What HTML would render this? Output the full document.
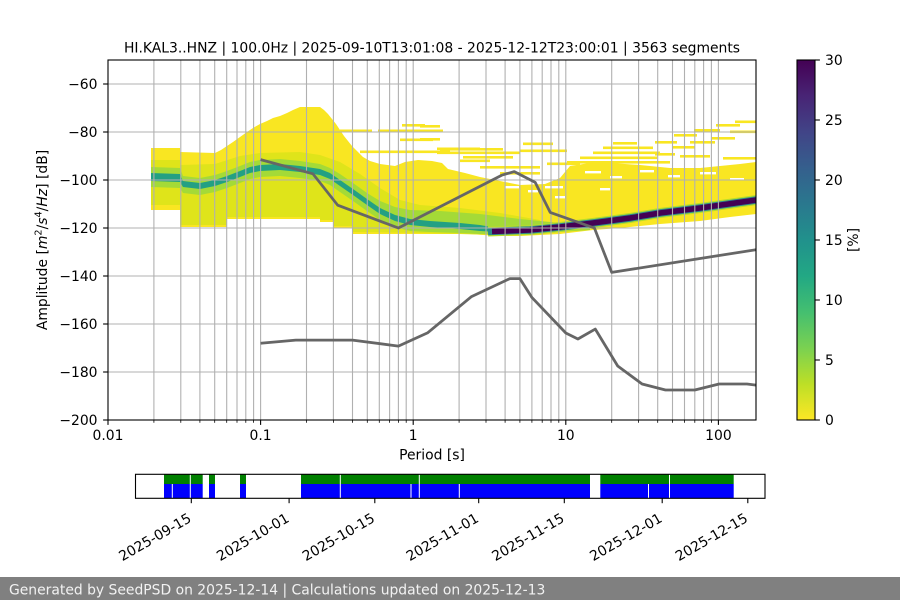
<!DOCTYPE html>
<html><head><meta charset="utf-8"><style>
html,body{margin:0;padding:0;background:#fff;}
svg{display:block;}
text{font-family:"DejaVu Sans","Liberation Sans",sans-serif;font-size:13.9px;fill:#000;}
</style></head><body>
<svg width="900" height="600" viewBox="0 0 900 600" xmlns="http://www.w3.org/2000/svg">
<defs>
<linearGradient id="vir" x1="0" y1="0" x2="0" y2="1">
<stop offset="0" stop-color="#440154"/><stop offset="0.1" stop-color="#482475"/><stop offset="0.2" stop-color="#414487"/><stop offset="0.3" stop-color="#355f8d"/><stop offset="0.4" stop-color="#2a788e"/><stop offset="0.5" stop-color="#21918c"/><stop offset="0.6" stop-color="#22a884"/><stop offset="0.7" stop-color="#44bf70"/><stop offset="0.8" stop-color="#7ad151"/><stop offset="0.9" stop-color="#bddf26"/><stop offset="1" stop-color="#fde725"/>
</linearGradient>
<clipPath id="ax"><rect x="108" y="60" width="648" height="360"/></clipPath>
</defs>
<rect width="900" height="600" fill="#fff"/>

<text x="432" y="52.5" text-anchor="middle">HI.KAL3..HNZ | 100.0Hz | 2025-09-10T13:01:08 - 2025-12-12T23:00:01 | 3563 segments</text>

<g clip-path="url(#ax)">
<polygon fill="#f9e622" points="151,148 180,148 180,152 215,153 221,150 227,146 233,142 240,137 247,132 253,128 260,124 267,121 273,118 280,116 287,113 293,110 300,107 320,107 324,110 328,114 332,119 336,124 340,130 344,136 348,141 352,146 357,151 363,157 370,161 380,164 395,166 405,162 418,160 432,161 442,163 448,169 465,173 480,177 500,181 520,185 545,184 560,178 570,166 590,163 610,163 640,165 670,168 700,168 720,166 740,164 756,162 756,214 730,217 700,221 660,224 620,228 593,230 560,234 520,236 497,236 470,234 420,234 353,234 353,228 333,228 333,222 320,222 320,219 227,219 227,227 180,227 180,210 151,210"/>
<g fill="#ffffff">
<rect x="505" y="186" width="14" height="2.4"/><rect x="528" y="190" width="10" height="2.4"/><rect x="545" y="186" width="18" height="2.4"/>
<rect x="585" y="171" width="16" height="2.4"/><rect x="610" y="176" width="12" height="2.4"/><rect x="640" y="170" width="14" height="2.4"/>
<rect x="668" y="175" width="12" height="2.4"/><rect x="700" y="172" width="16" height="2.4"/><rect x="730" y="178" width="14" height="2.4"/>
<rect x="555" y="196" width="10" height="2.4"/><rect x="600" y="188" width="10" height="2.4"/>
</g>
<g fill="#f9e622">
<rect x="340" y="129.5" width="32" height="2.6"/><rect x="378" y="129.5" width="65" height="2.6"/>
<rect x="402" y="124" width="23" height="2.6"/><rect x="420" y="125" width="20" height="2.6"/>
<rect x="400" y="138.5" width="33" height="2.6"/><rect x="420" y="138" width="20" height="2.6"/>
<rect x="360" y="150.5" width="90" height="2.6"/>
<rect x="437" y="147.5" width="43" height="2.6"/><rect x="440" y="148" width="63" height="2.6"/>
<rect x="437" y="151.5" width="83" height="2.6"/><rect x="463" y="156" width="50" height="2.6"/>
<rect x="460" y="159.5" width="30" height="2.6"/><rect x="523" y="142.5" width="30" height="2.6"/>
<rect x="520" y="149.5" width="47" height="2.6"/><rect x="547" y="162.5" width="33" height="2.6"/>
<rect x="480" y="166" width="60" height="2.6"/><rect x="500" y="172" width="40" height="2.6"/>
<rect x="613" y="142" width="24" height="2.6"/><rect x="603" y="146.5" width="50" height="2.6"/>
<rect x="593" y="151.5" width="67" height="2.6"/><rect x="580" y="156.5" width="77" height="2.6"/>
<rect x="567" y="161" width="103" height="2.6"/>
<rect x="655" y="141" width="22" height="2.6"/><rect x="674" y="134" width="23" height="2.6"/>
<rect x="694" y="129" width="26" height="2.6"/><rect x="716" y="124" width="24" height="2.6"/>
<rect x="735" y="120.5" width="22" height="2.6"/>
<rect x="655" y="153" width="20" height="2.6"/><rect x="672" y="146" width="23" height="2.6"/>
<rect x="690" y="141" width="25" height="2.6"/><rect x="712" y="137" width="23" height="2.6"/>
<rect x="730" y="130.5" width="27" height="2.6"/>
<rect x="680" y="155" width="30" height="2.6"/><rect x="723" y="157" width="34" height="2.6"/>
</g>
<polygon fill="#dfe41a" points="151,160 180,160 180,165 215,164 240,156 260,153 300,152 320,155 340,162 360,174 380,188 400,200 420,205 460,208 500,213 540,220 540,234 497,235 420,233 353,232 353,226 333,226 333,220 320,220 320,217 227,217 227,225 180,225 180,205 151,205"/>
<polygon fill="#a4da37" points="151,167 180,168 183,176 200,178 215,175 227,171 240,166 250,162 260,160 280,159 300,161 320,164 330,168 340,174 353,183 367,193 380,201 395,207 410,210 440,211 480,214 520,219 560,223 590,226 590,230 560,232 497,234 480,234 460,233 430,232 410,231 395,227 380,220 367,211 353,201 340,192 330,185 320,181 300,178 280,176 260,177 250,179 240,183 227,188 215,192 200,195 183,193 180,188 151,187"/>
<polygon fill="#23a083" points="151,173 180,174 183,181 200,183 215,180 227,176 240,171 250,167 260,165 280,164 300,166 320,169 330,173 340,180 353,189 367,199 380,208 395,215 410,219 430,221 460,223 480,225 497,228 497,232 480,231 460,229 430,227 410,225 395,221 380,214 367,205 353,195 340,186 330,179 320,175 300,172 280,170 260,171 250,173 240,177 227,182 215,186 200,189 183,187 180,182 151,181"/>
<polyline fill="none" stroke="#b5dd2b" stroke-width="10" points="488,231.5 530,230 560,227 593,223 630,218 660,213 700,208 760,199.5"/>
<polyline fill="none" stroke="#2c8a8c" stroke-width="7.5" points="488,231.5 530,230 560,227 593,223 630,218 660,213 700,208 760,199.5"/>
<polyline fill="none" stroke="#440154" stroke-width="5.5" points="492,231.5 530,230 560,227 593,223 630,218 660,213 700,208 760,199.5"/>
</g>

<g stroke="#b0b0b0" stroke-width="1.1">
<line x1="153.9" y1="60" x2="153.9" y2="420"/><line x1="180.8" y1="60" x2="180.8" y2="420"/><line x1="199.9" y1="60" x2="199.9" y2="420"/><line x1="214.7" y1="60" x2="214.7" y2="420"/><line x1="226.7" y1="60" x2="226.7" y2="420"/><line x1="237" y1="60" x2="237" y2="420"/><line x1="245.8" y1="60" x2="245.8" y2="420"/><line x1="253.6" y1="60" x2="253.6" y2="420"/>
<line x1="260.6" y1="60" x2="260.6" y2="420"/>
<line x1="306.5" y1="60" x2="306.5" y2="420"/><line x1="333.4" y1="60" x2="333.4" y2="420"/><line x1="352.5" y1="60" x2="352.5" y2="420"/><line x1="367.3" y1="60" x2="367.3" y2="420"/><line x1="379.3" y1="60" x2="379.3" y2="420"/><line x1="389.6" y1="60" x2="389.6" y2="420"/><line x1="398.4" y1="60" x2="398.4" y2="420"/><line x1="406.2" y1="60" x2="406.2" y2="420"/>
<line x1="413.2" y1="60" x2="413.2" y2="420"/>
<line x1="459.1" y1="60" x2="459.1" y2="420"/><line x1="486" y1="60" x2="486" y2="420"/><line x1="505.1" y1="60" x2="505.1" y2="420"/><line x1="519.9" y1="60" x2="519.9" y2="420"/><line x1="531.9" y1="60" x2="531.9" y2="420"/><line x1="542.2" y1="60" x2="542.2" y2="420"/><line x1="551" y1="60" x2="551" y2="420"/><line x1="558.8" y1="60" x2="558.8" y2="420"/>
<line x1="565.8" y1="60" x2="565.8" y2="420"/>
<line x1="611.7" y1="60" x2="611.7" y2="420"/><line x1="638.6" y1="60" x2="638.6" y2="420"/><line x1="657.7" y1="60" x2="657.7" y2="420"/><line x1="672.5" y1="60" x2="672.5" y2="420"/><line x1="684.5" y1="60" x2="684.5" y2="420"/><line x1="694.8" y1="60" x2="694.8" y2="420"/><line x1="703.6" y1="60" x2="703.6" y2="420"/><line x1="711.4" y1="60" x2="711.4" y2="420"/>
<line x1="718.4" y1="60" x2="718.4" y2="420"/>
<line x1="108" y1="84" x2="756" y2="84"/><line x1="108" y1="132" x2="756" y2="132"/><line x1="108" y1="180" x2="756" y2="180"/><line x1="108" y1="228" x2="756" y2="228"/><line x1="108" y1="276" x2="756" y2="276"/><line x1="108" y1="324" x2="756" y2="324"/><line x1="108" y1="372" x2="756" y2="372"/>
</g>

<g clip-path="url(#ax)" fill="none" stroke="#666666" stroke-width="2.78" stroke-linejoin="round">
<polyline points="260.6,159.6 312.9,173.8 337.7,205.2 398.4,228 501.7,175.2 514.3,171.6 535.2,182.4 550.2,212.4 594.4,228 611.7,272.4 756,249.7"/>
<polyline points="260.6,343.2 295.8,340.1 352.5,340.1 398.4,346.1 427.5,332.9 471.2,296.8 509.9,278.6 519.9,278.6 532,297.6 565.8,333 577.9,339 595.3,329.1 617.7,366 642.1,384 665.5,390 694.8,390 719.1,384 747,384 756,385.1"/>
</g>

<rect x="108" y="60" width="648" height="360" fill="none" stroke="#000" stroke-width="1.1"/>
<g stroke="#000" stroke-width="1.1">
<line x1="103.1" y1="84" x2="108" y2="84"/><line x1="103.1" y1="132" x2="108" y2="132"/><line x1="103.1" y1="180" x2="108" y2="180"/><line x1="103.1" y1="228" x2="108" y2="228"/><line x1="103.1" y1="276" x2="108" y2="276"/><line x1="103.1" y1="324" x2="108" y2="324"/><line x1="103.1" y1="372" x2="108" y2="372"/><line x1="103.1" y1="420" x2="108" y2="420"/>
<line x1="108" y1="420" x2="108" y2="424.9"/><line x1="260.6" y1="420" x2="260.6" y2="424.9"/><line x1="413.2" y1="420" x2="413.2" y2="424.9"/><line x1="565.8" y1="420" x2="565.8" y2="424.9"/><line x1="718.4" y1="420" x2="718.4" y2="424.9"/>
</g>
<g stroke="#000" stroke-width="0.8">
<line x1="153.9" y1="420" x2="153.9" y2="422.8"/><line x1="180.8" y1="420" x2="180.8" y2="422.8"/><line x1="199.9" y1="420" x2="199.9" y2="422.8"/><line x1="214.7" y1="420" x2="214.7" y2="422.8"/><line x1="226.7" y1="420" x2="226.7" y2="422.8"/><line x1="237" y1="420" x2="237" y2="422.8"/><line x1="245.8" y1="420" x2="245.8" y2="422.8"/><line x1="253.6" y1="420" x2="253.6" y2="422.8"/>
<line x1="306.5" y1="420" x2="306.5" y2="422.8"/><line x1="333.4" y1="420" x2="333.4" y2="422.8"/><line x1="352.5" y1="420" x2="352.5" y2="422.8"/><line x1="367.3" y1="420" x2="367.3" y2="422.8"/><line x1="379.3" y1="420" x2="379.3" y2="422.8"/><line x1="389.6" y1="420" x2="389.6" y2="422.8"/><line x1="398.4" y1="420" x2="398.4" y2="422.8"/><line x1="406.2" y1="420" x2="406.2" y2="422.8"/>
<line x1="459.1" y1="420" x2="459.1" y2="422.8"/><line x1="486" y1="420" x2="486" y2="422.8"/><line x1="505.1" y1="420" x2="505.1" y2="422.8"/><line x1="519.9" y1="420" x2="519.9" y2="422.8"/><line x1="531.9" y1="420" x2="531.9" y2="422.8"/><line x1="542.2" y1="420" x2="542.2" y2="422.8"/><line x1="551" y1="420" x2="551" y2="422.8"/><line x1="558.8" y1="420" x2="558.8" y2="422.8"/>
<line x1="611.7" y1="420" x2="611.7" y2="422.8"/><line x1="638.6" y1="420" x2="638.6" y2="422.8"/><line x1="657.7" y1="420" x2="657.7" y2="422.8"/><line x1="672.5" y1="420" x2="672.5" y2="422.8"/><line x1="684.5" y1="420" x2="684.5" y2="422.8"/><line x1="694.8" y1="420" x2="694.8" y2="422.8"/><line x1="703.6" y1="420" x2="703.6" y2="422.8"/><line x1="711.4" y1="420" x2="711.4" y2="422.8"/>
</g>
<g text-anchor="end">
<text x="97.5" y="89">−60</text><text x="97.5" y="137">−80</text><text x="97.5" y="185">−100</text><text x="97.5" y="233">−120</text><text x="97.5" y="281">−140</text><text x="97.5" y="329">−160</text><text x="97.5" y="377">−180</text><text x="97.5" y="425">−200</text>
</g>
<g text-anchor="middle">
<text x="108" y="440">0.01</text><text x="260.6" y="440">0.1</text><text x="413.2" y="440">1</text><text x="565.8" y="440">10</text><text x="718.4" y="440">100</text>
</g>
<text x="432" y="459.3" text-anchor="middle">Period [s]</text>
<text transform="translate(47,240) rotate(-90)" text-anchor="middle">Amplitude [<tspan font-style="italic">m</tspan><tspan font-size="9.7" dy="-5.5">2</tspan><tspan dy="5.5">/</tspan><tspan font-style="italic">s</tspan><tspan font-size="9.7" dy="-5.5">4</tspan><tspan dy="5.5">/</tspan><tspan font-style="italic">Hz</tspan>] [dB]</text>

<rect x="797" y="60" width="18" height="360" fill="url(#vir)"/>
<rect x="797" y="60" width="18" height="360" fill="none" stroke="#000" stroke-width="1.1"/>
<g stroke="#000" stroke-width="1.1">
<line x1="815" y1="60" x2="819.9" y2="60"/><line x1="815" y1="120" x2="819.9" y2="120"/><line x1="815" y1="180" x2="819.9" y2="180"/><line x1="815" y1="240" x2="819.9" y2="240"/><line x1="815" y1="300" x2="819.9" y2="300"/><line x1="815" y1="360" x2="819.9" y2="360"/><line x1="815" y1="420" x2="819.9" y2="420"/>
</g>
<text x="825" y="65">30</text><text x="825" y="125">25</text><text x="825" y="185">20</text><text x="825" y="245">15</text><text x="825" y="305">10</text><text x="825" y="365">5</text><text x="825" y="425">0</text>
<text transform="translate(858,240) rotate(-90)" text-anchor="middle">[%]</text>

<g>
<rect x="164" y="474.3" width="38.7" height="9.7" fill="#008000"/><rect x="209" y="474.3" width="6" height="9.7" fill="#008000"/><rect x="240" y="474.3" width="6" height="9.7" fill="#008000"/><rect x="301" y="474.3" width="289" height="9.7" fill="#008000"/><rect x="600.3" y="474.3" width="133.4" height="9.7" fill="#008000"/>
<rect x="164" y="484" width="38.7" height="14.3" fill="#0000ff"/><rect x="209" y="484" width="6" height="14.3" fill="#0000ff"/><rect x="240" y="484" width="6" height="14.3" fill="#0000ff"/><rect x="301" y="484" width="289" height="14.3" fill="#0000ff"/><rect x="600.3" y="484" width="133.4" height="14.3" fill="#0000ff"/>
<g fill="#fff">
<rect x="189.8" y="474.3" width="1" height="24"/><rect x="339.8" y="474.3" width="1" height="24"/><rect x="418.8" y="474.3" width="1" height="24"/><rect x="669" y="474.3" width="1" height="24"/>
<rect x="171.8" y="484" width="1" height="14.3"/><rect x="410.5" y="484" width="1" height="14.3"/><rect x="458.8" y="484" width="1" height="14.3"/><rect x="648" y="484" width="1" height="14.3"/>
</g>
<rect x="135.5" y="474.3" width="629.5" height="24" fill="none" stroke="#000" stroke-width="1.1"/>
<g stroke="#000" stroke-width="1.1">
<line x1="191.3" y1="498.3" x2="191.3" y2="503.2"/><line x1="289.1" y1="498.3" x2="289.1" y2="503.2"/><line x1="374.8" y1="498.3" x2="374.8" y2="503.2"/><line x1="478.7" y1="498.3" x2="478.7" y2="503.2"/><line x1="564.3" y1="498.3" x2="564.3" y2="503.2"/><line x1="662.2" y1="498.3" x2="662.2" y2="503.2"/><line x1="747.8" y1="498.3" x2="747.8" y2="503.2"/>
</g>
<g text-anchor="end">
<text transform="translate(192.3,521) rotate(-30)">2025-09-15</text>
<text transform="translate(290.1,521) rotate(-30)">2025-10-01</text>
<text transform="translate(375.8,521) rotate(-30)">2025-10-15</text>
<text transform="translate(479.7,521) rotate(-30)">2025-11-01</text>
<text transform="translate(565.3,521) rotate(-30)">2025-11-15</text>
<text transform="translate(663.2,521) rotate(-30)">2025-12-01</text>
<text transform="translate(748.8,521) rotate(-30)">2025-12-15</text>
</g>
</g>

<rect x="0" y="577" width="900" height="23" fill="#808080"/>
<text x="9" y="594.5" style="fill:#f2f2f2">Generated by SeedPSD on 2025-12-14 | Calculations updated on 2025-12-13</text>
</svg>
</body></html>
